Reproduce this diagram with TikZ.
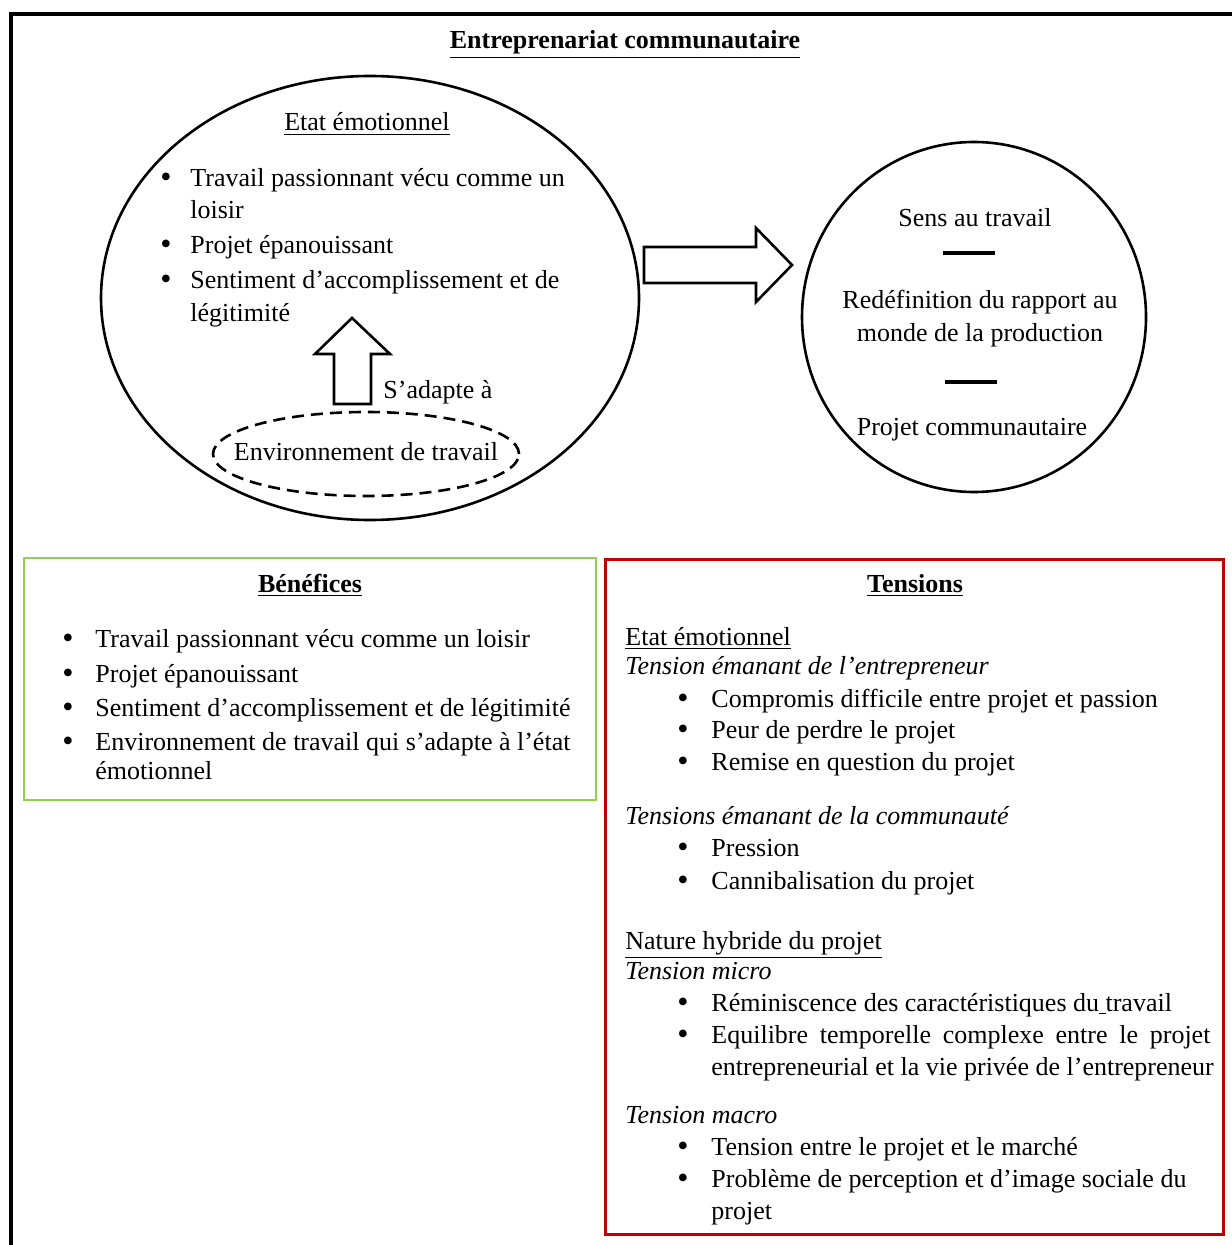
\documentclass[tikz,border=0pt]{standalone}
\usepackage{fontspec}
\setmainfont{Liberation Serif}
\usetikzlibrary{shapes.geometric}
\definecolor{boxgreen}{HTML}{92D050}
\definecolor{boxred}{HTML}{C00000}
\begin{document}
\begin{tikzpicture}[x=0.5pt,y=-0.5pt,
  basefont/.style={font=\fontsize{13}{16}\selectfont},
  txt/.style={basefont, inner sep=0pt, anchor=base west},
  ctxt/.style={basefont, inner sep=0pt, anchor=base},
  bul/.style={font=\fontsize{16}{16}\selectfont, inner sep=0pt, anchor=base},
  ring/.style={draw, line width=1.3pt},
  blockarrow/.style={draw, line width=1.3pt, fill=white, line join=miter},
  framebox/.style={line width=1.3pt}]
\useasboundingbox (0,0) rectangle (1231,1245);
% outer frame (cropped at right and bottom)
\draw[line width=1.9pt] (11,1260) -- (11,14) -- (1250,14);
\node[ctxt, font=\fontsize{13}{16}\selectfont\bfseries] (title) at (625,49) {\underline{Entreprenariat communautaire}};

% left ellipse
\node[ring, ellipse, minimum width=269pt, minimum height=222pt, inner sep=0pt] (emo) at (370,298) {};
\node[ctxt] (emot) at (367,131) {\underline{Etat émotionnel}};
\node[bul] (eb1) at (166,188) {•};
\node[txt] (e1) at (190,187) {Travail passionnant vécu comme un};
\node[txt] (e1b) at (190,219) {loisir};
\node[bul] (eb2) at (166,255) {•};
\node[txt] (e2) at (190,254) {Projet épanouissant};
\node[bul] (eb3) at (166,290) {•};
\node[txt] (e3) at (190,289) {Sentiment d’accomplissement et de};
\node[txt] (e3b) at (190,322) {légitimité};

% dashed ellipse
\node[ellipse, draw, dashed, dash pattern=on 6pt off 3.5pt, line width=1.3pt, minimum width=153pt, minimum height=42pt, inner sep=0pt] (env) at (366,454) {};
\node[ctxt] (envt) at (366,460) {Environnement de travail};

% up arrow
\draw[blockarrow] (334,404) -- (334,354) -- (315,354) -- (352,318) -- (390,354) -- (371,354) -- (371,404) -- cycle;
\node[txt] (adapt) at (383,399) {S’adapte à};

% right arrow
\draw[blockarrow] (644,247) -- (756,247) -- (756,228) -- (792,265) -- (756,302) -- (756,283) -- (644,283) -- cycle;

% right circle
\node[ring, ellipse, minimum width=172pt, minimum height=175pt, inner sep=0pt] (sens) at (974,317) {};
\node[ctxt] (s1) at (975,227) {Sens au travail};
\draw[line width=1.6pt] (943,253) -- (995,253);
\node[ctxt] (s2) at (980,309) {Redéfinition du rapport au};
\node[ctxt] (s3) at (980,342) {monde de la production};
\draw[line width=1.6pt] (945,382) -- (997,382);
\node[ctxt] (s4) at (972,435) {Projet communautaire};

% Benefices box
\draw[framebox, draw=boxgreen] (24,558) rectangle (596,800);
\node[ctxt, font=\fontsize{13}{16}\selectfont\bfseries] (ben) at (310,592) {\underline{Bénéfices}};
\node[bul] (bb1) at (68,648) {•};
\node[txt] (b1) at (95,647) {Travail passionnant vécu comme un loisir};
\node[bul] (bb2) at (68,683) {•};
\node[txt] (b2) at (95,682) {Projet épanouissant};
\node[bul] (bb3) at (68,717) {•};
\node[txt] (b3) at (95,716) {Sentiment d’accomplissement et de légitimité};
\node[bul] (bb4) at (68,751) {•};
\node[txt] (b4) at (95,750) {Environnement de travail qui s’adapte à l’état};
\node[txt] (b4b) at (95,779) {émotionnel};

% Tensions box
\draw[line width=1.5pt, draw=boxred] (605,559) rectangle (1223,1234);
\node[ctxt, font=\fontsize{13}{16}\selectfont\bfseries] (ten) at (915,592) {\underline{Tensions}};
\node[txt] (t1) at (625,645) {\underline{Etat émotionnel}};
\node[txt, font=\fontsize{13}{16}\selectfont\itshape] (t2) at (625,674) {Tension émanant de l’entrepreneur};
\node[bul] (tb1) at (683,708) {•};
\node[txt] (t3) at (711,707) {Compromis difficile entre projet et passion};
\node[bul] (tb2) at (683,739) {•};
\node[txt] (t4) at (711,738) {Peur de perdre le projet};
\node[bul] (tb3) at (683,771) {•};
\node[txt] (t5) at (711,770) {Remise en question du projet};
\node[txt, font=\fontsize{13}{16}\selectfont\itshape] (t6) at (625,824) {Tensions émanant de la communauté};
\node[bul] (tb4) at (683,857) {•};
\node[txt] (t7) at (711,856) {Pression};
\node[bul] (tb5) at (683,890) {•};
\node[txt] (t8) at (711,889) {Cannibalisation du projet};
\node[txt] (t9) at (625,949) {\underline{Nature hybride du projet}};
\node[txt, font=\fontsize{13}{16}\selectfont\itshape] (t10) at (625,979) {Tension micro};
\node[bul] (tb6) at (683,1012) {•};
\node[txt] (t11) at (711,1011) {Réminiscence des caractéristiques du\underline{\ }travail};
\node[bul] (tb7) at (683,1044) {•};
\node[txt] (t12) at (711,1043) {\makebox[249.5pt][s]{Equilibre temporelle complexe entre le projet}};
\node[txt] (t13) at (711,1075) {entrepreneurial et la vie privée de l’entrepreneur};
\node[txt, font=\fontsize{13}{16}\selectfont\itshape] (t14) at (625,1123) {Tension macro};
\node[bul] (tb8) at (683,1156) {•};
\node[txt] (t15) at (711,1155) {Tension entre le projet et le marché};
\node[bul] (tb9) at (683,1188) {•};
\node[txt] (t16) at (711,1187) {Problème de perception et d’image sociale du};
\node[txt] (t17) at (711,1219) {projet};
\end{tikzpicture}
\end{document}
